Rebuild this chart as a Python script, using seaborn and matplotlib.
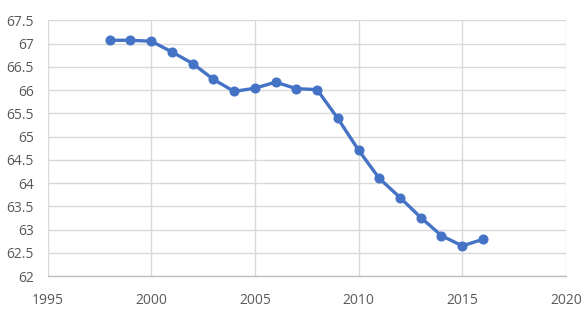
import matplotlib
matplotlib.use("Agg")
import matplotlib.pyplot as plt
import seaborn as sns
import pandas as pd

years = [1998, 1999, 2000, 2001, 2002, 2003, 2004, 2005, 2006, 2007,
         2008, 2009, 2010, 2011, 2012, 2013, 2014, 2015, 2016]
values = [67.07, 67.07, 67.05, 66.82, 66.57, 66.23, 65.97, 66.04, 66.17, 66.03,
          66.01, 65.39, 64.71, 64.10, 63.69, 63.26, 62.87, 62.65, 62.79]
x_ticks = [1995, 2000, 2005, 2010, 2015, 2020]
y_ticks = [62, 62.5, 63, 63.5, 64, 64.5, 65, 65.5, 66, 66.5, 67, 67.5]

sns.set_theme(style="white")
plt.rcParams['font.family'] = ['Open Sans', 'DejaVu Sans']

df = pd.DataFrame({"year": years, "value": values})

fig = plt.figure(figsize=(5.87, 3.17), dpi=100)
ax = fig.add_axes([0.081, 0.129, 0.883, 0.807])

sns.lineplot(data=df, x="year", y="value", ax=ax, color="#4472C4",
             linewidth=2.4, marker="o", markersize=6.5,
             markeredgecolor="#4472C4", markerfacecolor="#4472C4", zorder=3)

ax.set_xlim(1995, 2020)
ax.set_ylim(62, 67.5)
ax.set_xticks(x_ticks)
ax.set_yticks(y_ticks)
ax.set_xticklabels([str(t) for t in x_ticks])
ax.set_yticklabels([f"{t:g}" for t in y_ticks])
ax.grid(True, color="#D9D9D9", linewidth=1.0, zorder=0)
ax.set_axisbelow(True)
for s in ["top", "right", "left"]:
    ax.spines[s].set_visible(False)
ax.spines["bottom"].set_color("#BFBFBF")
ax.spines["bottom"].set_linewidth(1.0)
ax.set_xlabel("")
ax.set_ylabel("")
ax.tick_params(axis="both", length=0, labelsize=10, colors="#595959")
ax.tick_params(axis="y", pad=10)
ax.tick_params(axis="x", pad=12)

fig.savefig("out.png", dpi=100)
